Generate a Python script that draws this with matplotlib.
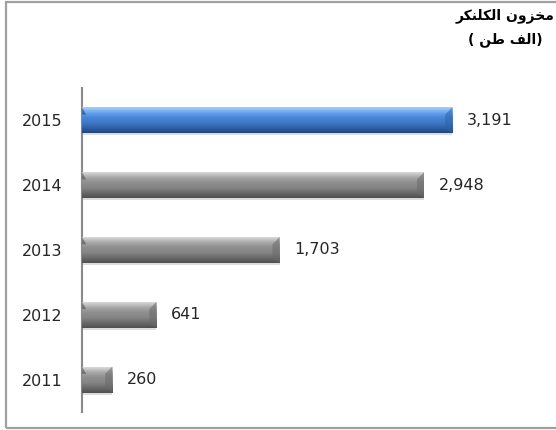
#!/usr/bin/env python3
"""
Clinker stock bar chart (thousand tons), 2011-2015
"""

import numpy as np
import matplotlib
matplotlib.use('Agg')
import matplotlib.pyplot as plt
from matplotlib.colors import LinearSegmentedColormap
from matplotlib.patches import Rectangle, Polygon

# data
years = ['2011', '2012', '2013', '2014', '2015']
stock = [260, 641, 1703, 2948, 3191]
value_labels = ['260', '641', '1,703', '2,948', '3,191']

# Arabic title, already shaped (presentation forms) and in visual order
title_line1 = '\ufeae\ufedc\ufee8\ufee0\ufedc\ufedf\ufe8d \ufee5\ufeed\ufeb0\ufea8\ufee3'  # مخزون الكلنكر
title_line2 = '( \ufee6\ufec3 \ufed2\ufedf\ufe8d)'  # (الف طن )

GRAY = ['#d9d9d9', '#a8a8a8', '#8e8e8e', '#858585', '#6a6a6a', '#505050']
BLUE = ['#a8d0fa', '#6aa6ee', '#4a86d6', '#3f79c8', '#2f62a8', '#21477c']


def shade_bar(ax, bar, colors):
    """Paint a vertical gradient inside a bar plus little bevelled ends."""
    x0, y0 = bar.get_x(), bar.get_y()
    w, h = bar.get_width(), bar.get_height()
    cmap = LinearSegmentedColormap.from_list('bevel', colors)
    grad = np.linspace(0, 1, 64).reshape(-1, 1)
    im = ax.imshow(grad, extent=[x0, x0 + w, y0, y0 + h], cmap=cmap,
                   aspect='auto', zorder=3, interpolation='bilinear')
    im.set_clip_path(bar)
    # bevel caps at the ends (about 7 px wide)
    cap = 7 / 0.116
    right = Polygon([[x0 + w, y0 + h], [x0 + w - cap, y0 + h * 0.72],
                     [x0 + w - cap, y0 + h * 0.2], [x0 + w, y0]],
                    closed=True, facecolor=colors[-2], alpha=0.55,
                    edgecolor='none', zorder=4)
    left = Polygon([[x0, y0 + h], [x0 + cap * 0.6, y0 + h * 0.72],
                    [x0, y0 + h * 0.72]],
                   closed=True, facecolor=colors[-1], alpha=0.6,
                   edgecolor='none', zorder=4)
    ax.add_patch(right)
    ax.add_patch(left)


fig = plt.figure(figsize=(5.56, 4.30), dpi=100)
ax = fig.add_axes([82 / 556, 18 / 430, 464 / 556, 324 / 430])

ypos = np.arange(len(years))
bars = ax.barh(ypos, stock, height=0.4, color='#8e8e8e', zorder=2)

for i, bar in enumerate(bars):
    shade_bar(ax, bar, BLUE if years[i] == '2015' else GRAY)
    # soft shadow under the bar
    ax.add_patch(Rectangle((bar.get_x(), bar.get_y() - 0.03), bar.get_width(), 0.05,
                           facecolor='#dcdcdc', edgecolor='none', zorder=1))
    ax.annotate(value_labels[i], xy=(bar.get_width(), ypos[i]),
                xytext=(15, 0), textcoords='offset pixels',
                va='center', ha='left', fontsize=11.5, color='#262626',
                family='DejaVu Sans')

ax.set_xlim(0, 4000)
ax.set_ylim(-0.5, 4.5)
ax.set_yticks(ypos)
ax.set_yticklabels(years, fontsize=11.5, color='#262626')
ax.tick_params(axis='y', length=0, pad=14)
ax.set_xticks([])

for side in ['top', 'right', 'bottom']:
    ax.spines[side].set_visible(False)
ax.spines['left'].set_color('#8a8a8a')
ax.spines['left'].set_linewidth(1.5)

# title at the top right
fig.text(505 / 556, 1 - 16 / 430, title_line1, ha='center', va='center',
         fontsize=10, fontweight='bold', family='DejaVu Sans', color='black')
fig.text(505 / 556, 1 - 40 / 430, title_line2, ha='center', va='center',
         fontsize=10, fontweight='bold', family='DejaVu Sans', color='black')

# outer frame
fig.add_artist(Rectangle((5.5 / 556, 2 / 430), 1.1, 426 / 430,
                         transform=fig.transFigure, fill=False,
                         edgecolor='#a0a0a0', linewidth=1.6))

plt.savefig('out.png', dpi=100)
plt.close()
